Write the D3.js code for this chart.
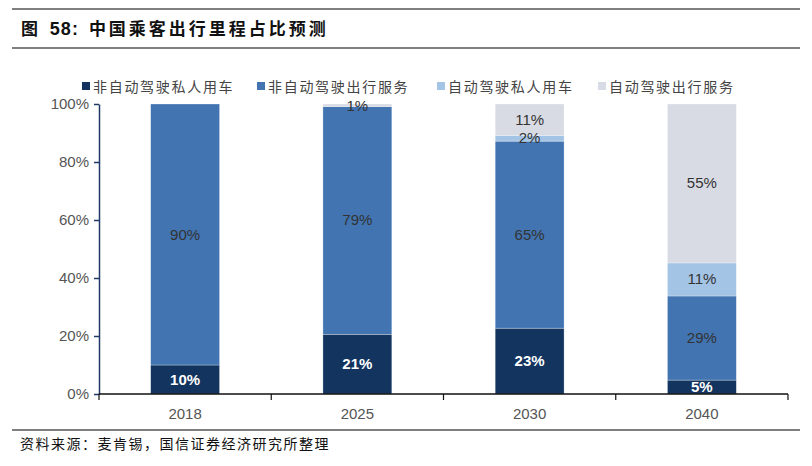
<!DOCTYPE html>
<html><head><meta charset="utf-8">
<script src="https://cdn.jsdelivr.net/npm/d3@7"></script>
<style>body{margin:0;background:#fff;} svg{display:block;font-family:"Liberation Sans",Arial,sans-serif;}</style>
</head><body><svg id="c" width="812" height="466"></svg>
<script>
const categories = ["2018", "2025", "2030", "2040"];
const seriesNames = ["非自动驾驶私人用车", "非自动驾驶出行服务", "自动驾驶私人用车", "自动驾驶出行服务"];
const nonAutoPrivate = [10, 20.6, 22.7, 4.8];
const nonAutoService = [90, 78.5, 64.5, 29.0];
const autoPrivate = [0, 0, 2.0, 11.4];
const autoService = [0, 0.9, 10.8, 54.8];
const yTicks = [0, 20, 40, 60, 80, 100];
const colors = ["#12345f", "#4174b1", "#a4c4e5", "#d8dbe4"];
const labelColors = ["#ffffff", "#333333", "#333333", "#333333"];

const svg = d3.select("#c");
const cjk = '"Noto Sans CJK SC", sans-serif';

// header lines & title
svg.append("line").attr("x1",12).attr("x2",800).attr("y1",9).attr("y2",9).attr("stroke","#555").attr("stroke-width",1.5);
svg.append("line").attr("x1",12).attr("x2",800).attr("y1",48).attr("y2",48).attr("stroke","#555").attr("stroke-width",1.5);
const title = svg.append("text").attr("x",21).attr("y",35).attr("font-family",cjk).attr("font-weight","bold").attr("font-size",17).attr("fill","#111");
title.append("tspan").text("图 ").attr("letter-spacing",4);
title.append("tspan").text("58:").attr("font-family","Liberation Sans, Arial, sans-serif").attr("font-size",18).attr("letter-spacing",1);
title.append("tspan").text("中国乘客出行里程占比预测").attr("dx",10).attr("letter-spacing",3);
svg.append("line").attr("x1",12).attr("x2",800).attr("y1",430).attr("y2",430).attr("stroke","#555").attr("stroke-width",1.5);
svg.append("text").attr("x",20).attr("y",449).attr("font-family",cjk).attr("font-size",14).attr("letter-spacing",1.5).attr("fill","#111").text("资料来源：麦肯锡，国信证券经济研究所整理");

const x = d3.scaleBand().domain(categories).range([99, 788]).paddingInner(0.6).paddingOuter(0.3);
const xb = d3.scaleBand().domain(categories).range([99, 788]);
const y = d3.scaleLinear().domain([0, 100]).range([394, 104]);

const rows = categories.map((c,i)=>({cat:c, s0:nonAutoPrivate[i], s1:nonAutoService[i], s2:autoPrivate[i], s3:autoService[i]}));
const stack = d3.stack().keys(["s0","s1","s2","s3"])(rows);

const g = svg.append("g");
stack.forEach((layer, k) => {
  g.selectAll(null).data(layer).enter().append("rect")
    .attr("x", d => x(d.data.cat))
    .attr("width", x.bandwidth())
    .attr("y", d => y(d[1]))
    .attr("height", d => Math.max(0, y(d[0]) - y(d[1])))
    .attr("fill", colors[k])
    .attr("stroke", d => (d[1]-d[0])>0 ? "rgba(255,255,255,0.5)" : "none")
    .attr("stroke-width", 0.6);
});
// labels
stack.forEach((layer, k) => {
  layer.forEach(d => {
    const v = d[1]-d[0];
    if (v <= 0) return;
    const cx = x(d.data.cat) + x.bandwidth()/2;
    let cy = y((d[0]+d[1])/2);
    let dy = 5;
    if (v < 1.5) { cy = y(d[1]); dy = 7; }
    g.append("text").attr("x", cx).attr("y", cy + dy)
      .attr("text-anchor","middle").attr("font-size",15)
      .attr("font-weight", k===0 ? "bold" : "normal")
      .attr("fill", labelColors[k]).text(Math.round(v) + "%");
  });
});

// y axis
const ya = svg.append("g").attr("transform","translate(99,0)")
  .call(d3.axisLeft(y).tickValues(yTicks).tickFormat(d=>d+"%").tickSize(5).tickSizeOuter(0));
ya.select(".domain").attr("stroke","#1f3a66").attr("stroke-width",1.5);
ya.selectAll(".tick line").attr("stroke","#1f3a66").attr("stroke-width",1.5);
ya.selectAll(".tick text").attr("font-size",15).attr("fill","#555").attr("font-family","Liberation Sans, Arial, sans-serif").attr("x",-10);

// x axis
const xa = svg.append("g").attr("transform","translate(0,394)");
xa.append("line").attr("x1",99).attr("x2",788).attr("stroke","#111").attr("stroke-width",1.5);
const bounds = categories.map(c=>xb(c)).concat([788]);
xa.selectAll(null).data(bounds).enter().append("line")
  .attr("x1",d=>d).attr("x2",d=>d).attr("y1",0).attr("y2",6).attr("stroke","#111").attr("stroke-width",1.2);
xa.selectAll(null).data(categories).enter().append("text")
  .attr("x", c => xb(c)+xb.bandwidth()/2).attr("y", 25)
  .attr("text-anchor","middle").attr("font-size",15).attr("fill","#555").text(c=>c);

// legend
const legX = [82, 257, 437, 598];
const leg = svg.append("g");
seriesNames.forEach((n,i)=>{
  leg.append("rect").attr("x",legX[i]).attr("y",82).attr("width",8).attr("height",8).attr("fill",colors[i]);
  leg.append("text").attr("x",legX[i]+11).attr("y",92).attr("font-family",cjk).attr("font-size",14).attr("letter-spacing",1.7).attr("fill","#444").text(n);
});
</script></body></html>
